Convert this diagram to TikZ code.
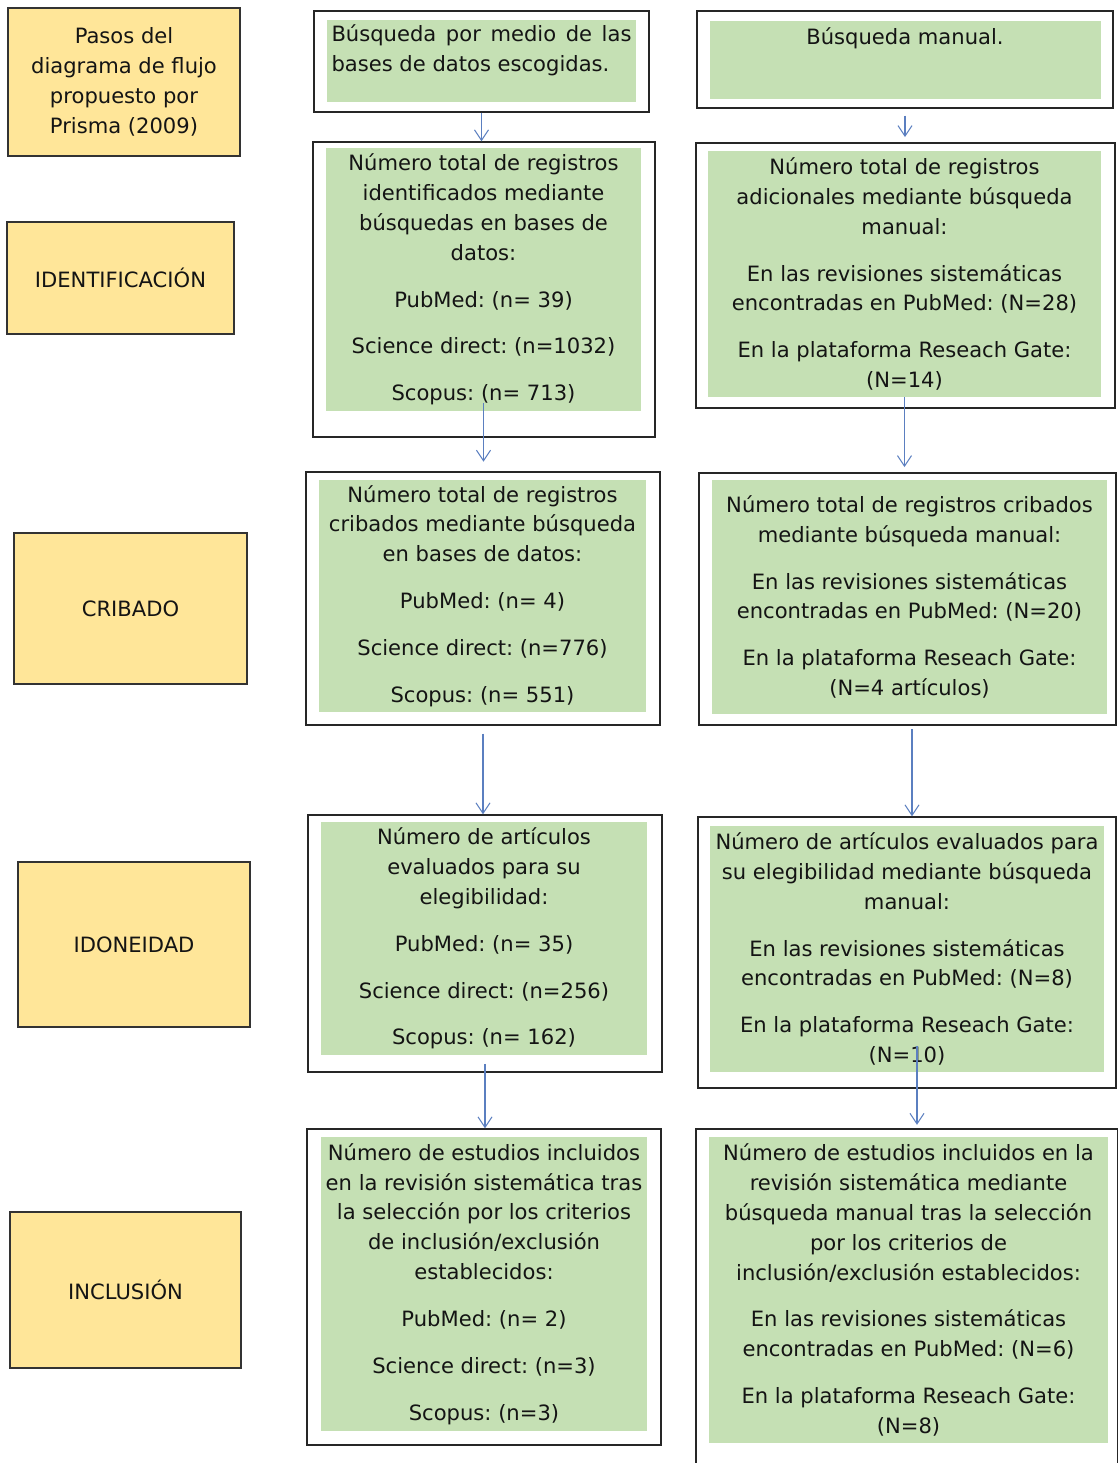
\documentclass[tikz,border=0pt]{standalone}
\usepackage{fontspec}
\setmainfont{DejaVu Sans}
\usetikzlibrary{arrows.meta}
\definecolor{amarillo}{HTML}{FFE699}
\definecolor{verde}{HTML}{C5E0B4}
\definecolor{azul}{HTML}{5B7FC0}
\definecolor{tinta}{HTML}{141414}
\frenchspacing

\begin{document}
\begin{tikzpicture}[x=0.02cm, y=-0.02cm]
	\tikzstyle{paso} = [
		draw=black!80, line width=0.8pt, fill=amarillo,
		rectangle, align=center, text=tinta,
		font=\fontsize{12}{17}\selectfont];
	\tikzstyle{marco} = [
		draw=black!85, line width=0.8pt, fill=white,
		rectangle];
	\tikzstyle{caja} = [
		fill=verde, rectangle, inner sep=2pt,
		align=center, text=tinta,
		font=\fontsize{12}{17}\selectfont];
	\tikzstyle{texto} = [
		inner sep=0pt, text=tinta,
		font=\fontsize{12}{17}\selectfont];
	\tikzstyle{flecha} = [
		draw=azul, line width=0.6pt,
		-{Straight Barb[length=6pt,width=8pt]}];

	\useasboundingbox (0,0) rectangle (1117,1463);

	% columna de pasos
	\node[paso, minimum width=4.64cm, minimum height=2.96cm] (pasos) at (124,82)
		{Pasos del\\diagrama de flujo\\propuesto por\\Prisma (2009)};
	\node[paso, minimum width=4.54cm, minimum height=2.24cm] (ident) at (120.5,278) {IDENTIFICACIÓN};
	\node[paso, minimum width=4.66cm, minimum height=3.02cm] (crib) at (130.5,608.5) {CRIBADO};
	\node[paso, minimum width=4.64cm, minimum height=3.30cm] (idon) at (134,944.5) {IDONEIDAD};
	\node[paso, minimum width=4.62cm, minimum height=3.12cm] (incl) at (125.5,1290) {INCLUSIÓN};

	% bases de datos
	\node[marco, minimum width=6.70cm, minimum height=2.02cm] (m1) at (481.5,61.5) {};
	\node[caja, minimum width=6.18cm, minimum height=1.64cm] (m1v) at (481.5,61) {};
	\node[texto, text width=6cm, align=justify, anchor=north] (m1t) at (481.5,24)
		{Búsqueda por medio de las\linebreak bases de datos escogidas.};

	\node[marco, minimum width=6.84cm, minimum height=5.90cm] (m2) at (484,289.5) {};
	\node[caja, minimum width=6.30cm, minimum height=5.26cm] (m2v) at (483.5,279.5)
		{Número total de registros\\identificados mediante\\búsquedas en bases de\\datos:\\[9.7pt]
		PubMed: (n= 39)\\[9.7pt]Science direct: (n=1032)\\[9.7pt]Scopus: (n= 713)};

	\node[marco, minimum width=7.08cm, minimum height=5.06cm] (m3) at (483,598.5) {};
	\node[caja, minimum width=6.54cm, minimum height=4.64cm] (m3v) at (482.5,596)
		{Número total de registros\\cribados mediante búsqueda\\en bases de datos:\\[9.7pt]
		PubMed: (n= 4)\\[9.7pt]Science direct: (n=776)\\[9.7pt]Scopus: (n= 551)};

	\node[marco, minimum width=7.08cm, minimum height=5.14cm] (m4) at (485,943.5) {};
	\node[caja, minimum width=6.52cm, minimum height=4.66cm] (m4v) at (484,938.5)
		{Número de artículos\\evaluados para su\\elegibilidad:\\[9.7pt]
		PubMed: (n= 35)\\[9.7pt]Science direct: (n=256)\\[9.7pt]Scopus: (n= 162)};

	\node[marco, minimum width=7.08cm, minimum height=6.32cm] (m5) at (484,1287) {};
	\node[caja, minimum width=6.52cm, minimum height=5.88cm] (m5v) at (484,1284)
		{Número de estudios incluidos\\en la revisión sistemática tras\\la selección por los criterios\\de inclusión/exclusión\\establecidos:\\[9.7pt]
		PubMed: (n= 2)\\[9.7pt]Science direct: (n=3)\\[9.7pt]Scopus: (n=3)};

	% busqueda manual
	\node[marco, minimum width=8.32cm, minimum height=1.94cm] (r1) at (905,59.5) {};
	\node[caja, minimum width=7.82cm, minimum height=1.56cm] (r1v) at (905.5,60) {};
	\node[texto, anchor=north] (r1t) at (905,27) {Búsqueda manual.};

	\node[marco, minimum width=8.38cm, minimum height=5.30cm] (r2) at (905.5,275.5) {};
	\node[caja, minimum width=7.86cm, minimum height=4.92cm] (r2v) at (904.5,274)
		{Número total de registros\\adicionales mediante búsqueda\\manual:\\[9.7pt]
		En las revisiones sistemáticas\\encontradas en PubMed: (N=28)\\[9.7pt]
		En la plataforma Reseach Gate:\\(N=14)};

	\node[marco, minimum width=8.34cm, minimum height=5.04cm] (r3) at (907.5,599) {};
	\node[caja, minimum width=7.90cm, minimum height=4.68cm] (r3v) at (909.5,597)
		{Número total de registros cribados\\mediante búsqueda manual:\\[9.7pt]
		En las revisiones sistemáticas\\encontradas en PubMed: (N=20)\\[9.7pt]
		En la plataforma Reseach Gate:\\(N=4 artículos)};

	\node[marco, minimum width=8.36cm, minimum height=5.42cm] (r4) at (907,952.5) {};
	\node[caja, minimum width=7.88cm, minimum height=4.92cm] (r4v) at (907,949)
		{Número de artículos evaluados para\\su elegibilidad mediante búsqueda\\manual:\\[9.7pt]
		En las revisiones sistemáticas\\encontradas en PubMed: (N=8)\\[9.7pt]
		En la plataforma Reseach Gate:\\(N=10)};

	\node[marco, minimum width=8.44cm, minimum height=6.82cm] (r5) at (907,1299.5) {};
	\node[caja, minimum width=7.98cm, minimum height=6.12cm] (r5v) at (908.5,1290)
		{Número de estudios incluidos en la\\revisión sistemática mediante\\búsqueda manual tras la selección\\por los criterios de\\inclusión/exclusión establecidos:\\[9.7pt]
		En las revisiones sistemáticas\\encontradas en PubMed: (N=6)\\[9.7pt]
		En la plataforma Reseach Gate:\\(N=8)};

	% flechas
	\draw[flecha] (m1.south) -- (m1.south |- m2.north);
	\draw[flecha, shorten <=-5pt, shorten >=5.5pt] (m2v.south) -- (m2v.south |- m3.north);
	\draw[flecha, shorten <=4.5pt] (m3.south) -- (m3.south |- m4.north);
	\draw[flecha, shorten <=-5pt] (m4.south) -- (m4.south |- m5.north);

	\draw[flecha, shorten <=4pt, shorten >=3pt] (r1.south) -- (r1.south |- r2.north);
	\draw[flecha, shorten >=3pt] (r2v.south) -- (r2v.south |- r3.north);
	\draw[flecha, shorten <=2pt] ([xshift=0.09cm]r3.south) -- ([xshift=0.09cm]r3.south |- r4.north);
	\draw[flecha, shorten <=-15pt, shorten >=2pt] ([xshift=0.2cm]r4v.south) -- ([xshift=0.2cm]r4v.south |- r5.north);
\end{tikzpicture}
\end{document}
